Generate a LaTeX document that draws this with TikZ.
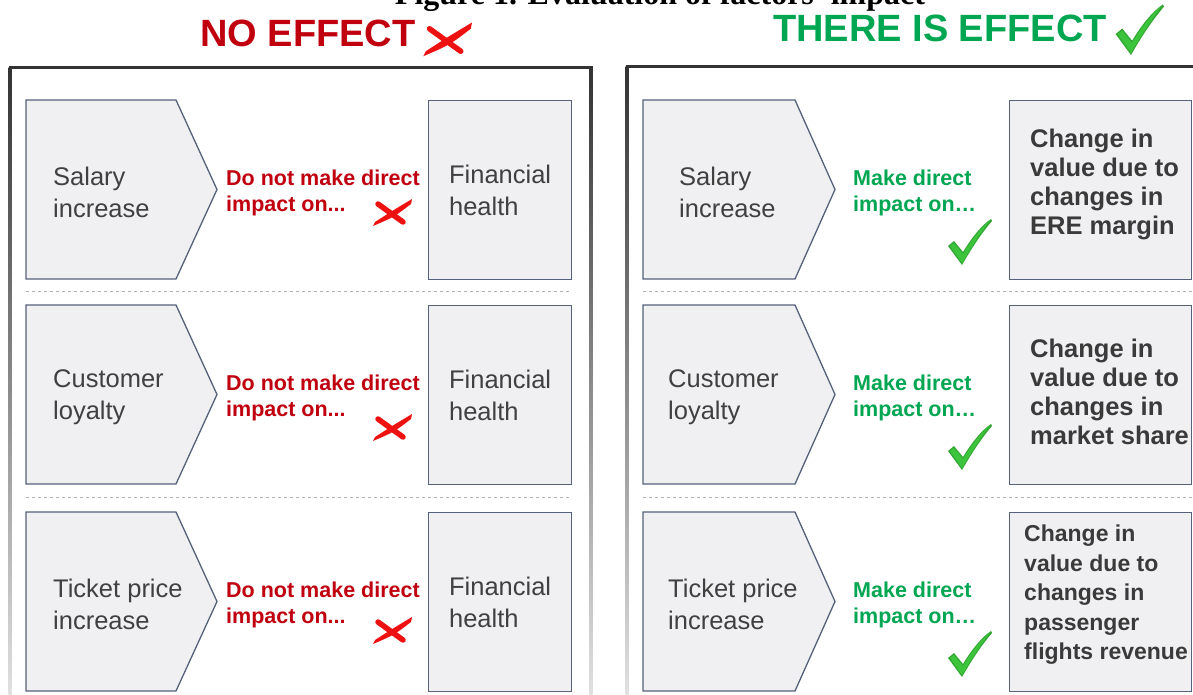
\documentclass[tikz,border=0pt]{standalone}
\usepackage{fontspec}
\setmainfont{Liberation Sans}
\newfontfamily\titlefont{Liberation Serif}
\usetikzlibrary{positioning}

\definecolor{boxfill}{HTML}{F0F0F2}
\definecolor{boxline}{HTML}{56617A}
\definecolor{txtgray}{HTML}{404040}
\definecolor{nored}{HTML}{C0000F}
\definecolor{crossred}{HTML}{EE1111}
\definecolor{yesgreen}{HTML}{00A651}
\definecolor{tickgreen}{HTML}{3CC43C}

\tikzset{
  factor/.style={draw=boxline, fill=boxfill, line width=1.3pt, line join=miter},
  result/.style={draw=boxline, fill=boxfill, line width=1.3pt, anchor=north west,
    align=left, text=txtgray, font=\fontsize{25.5}{32}\selectfont},
  factortext/.style={anchor=west, align=left, inner sep=0pt, text=txtgray,
    font=\fontsize{25.5}{32}\selectfont},
  effecttext/.style={anchor=west, align=left, inner sep=0pt, text=txtgray!90!black,
    font=\bfseries\fontsize{25.5}{29}\selectfont},
  impact/.style={anchor=west, align=left, inner sep=0pt,
    font=\bfseries\fontsize{21.5}{26}\selectfont},
  header/.style={anchor=base west, inner sep=0pt, font=\bfseries\fontsize{38}{40}\selectfont},
  rowsep/.style={draw=black!30, dashed, line width=0.8pt},
  cross/.pic={
    \fill[crossred] (-19,13) -- (-17,9) .. controls (0,-2) .. (20,-14)
      -- (19,-9) .. controls (2,4) .. cycle;
    \draw[crossred, line width=5.5pt, line cap=round] (-14,-9) -- (11,9);
  },
  tick/.pic={
    \fill[tickgreen!85!black] (0,0) -- (-14,-19) -- (-8,-24) -- (1,-13)
      .. controls (10,-28) and (20,-40) .. (29,-46) -- (30,-44)
      .. controls (18,-30) and (8,-14) .. cycle;
    \fill[tickgreen] (0,-2) -- (-12,-19) -- (-8,-22) -- (1,-11)
      .. controls (10,-26) and (20,-38) .. (28,-45)
      .. controls (17,-30) and (7,-14) .. cycle;
  }
}

\begin{document}
\begin{tikzpicture}[x=1pt, y=-1pt]
\useasboundingbox (0,0) rectangle (1193,695);

% title, cut off by the top edge
\node (title) [anchor=base, font=\titlefont\bfseries\fontsize{32}{36}\selectfont]
  at (660,5) {Figure 1. Evaluation of factors' impact};

% headers
\node (noeffect) [header, text=nored] at (200,47) {NO EFFECT};
\pic[scale=1.25] at (447,40) {cross};
\node (effect) [header, text=yesgreen] at (773,42) {THERE IS EFFECT};
\pic[scale=1.1] at (1131,55) {tick};

% panels
\draw[black!80, line width=3pt] (8.5,68) -- (592.5,68);
\shade[top color=black!80, bottom color=black!12] (8.5,68) rectangle (11.5,695);
\shade[top color=black!80, bottom color=black!12] (589.5,68) rectangle (592.5,695);
\draw[black!80, line width=3pt] (625.5,67) -- (1193,67);
\shade[top color=black!80, bottom color=black!12] (625.5,67) rectangle (628.5,695);

\draw[rowsep] (26,291) -- (571,291);
\draw[rowsep] (26,497) -- (571,497);
\draw[rowsep] (643,291) -- (1193,291);
\draw[rowsep] (643,497) -- (1193,497);

% left panel: no effect
\foreach \i/\ya/\cause/\xy in {1/100/{Salary\\increase}/113, 2/305/{Customer\\loyalty}/123, 3/512/{Ticket price\\increase}/119} {
  \draw[factor] (26,\ya) -- (176,\ya) -- (217,\ya+89.5) -- (176,\ya+179) -- (26,\ya+179) -- cycle;
  \node (lc\i) [factortext] at (53,\ya+92) {\cause};
  \node (lh\i) [result, minimum width=143, minimum height=179] at (428,\ya) {Financial\\health};
  \node (ln\i) [impact, text=nored] at (226,\ya+93) {Do not make direct\\impact on...};
  \pic at (392,\ya+\xy) {cross};
}

% right panel: there is effect
\foreach \i/\ya/\cause/\xc in {1/100/{Salary\\increase}/679, 2/305/{Customer\\loyalty}/668, 3/512/{Ticket price\\increase}/668} {
  \draw[factor] (643,\ya) -- (795,\ya) -- (835,\ya+89.5) -- (795,\ya+179) -- (643,\ya+179) -- cycle;
  \node (rc\i) [factortext] at (\xc,\ya+92) {\cause};
  \node (rv\i) [result, minimum width=182, minimum height=179] at (1009,\ya) {};
  \node (ry\i) [impact, text=yesgreen] at (853,\ya+93) {Make direct\\impact on…};
  \pic at (962,\ya+165) {tick};
}

\node (re1) [effecttext] at (1030,184.5) {Change in\\value due to\\changes in\\ERE margin};
\node (re2) [effecttext] at (1030,391.5) {Change in\\value due to\\changes in\\market share};
\node (re3) [effecttext, font=\bfseries\fontsize{23}{29.5}\selectfont] at (1024,595)
  {Change in\\value due to\\changes in\\passenger\\flights revenue};

\end{tikzpicture}
\end{document}
